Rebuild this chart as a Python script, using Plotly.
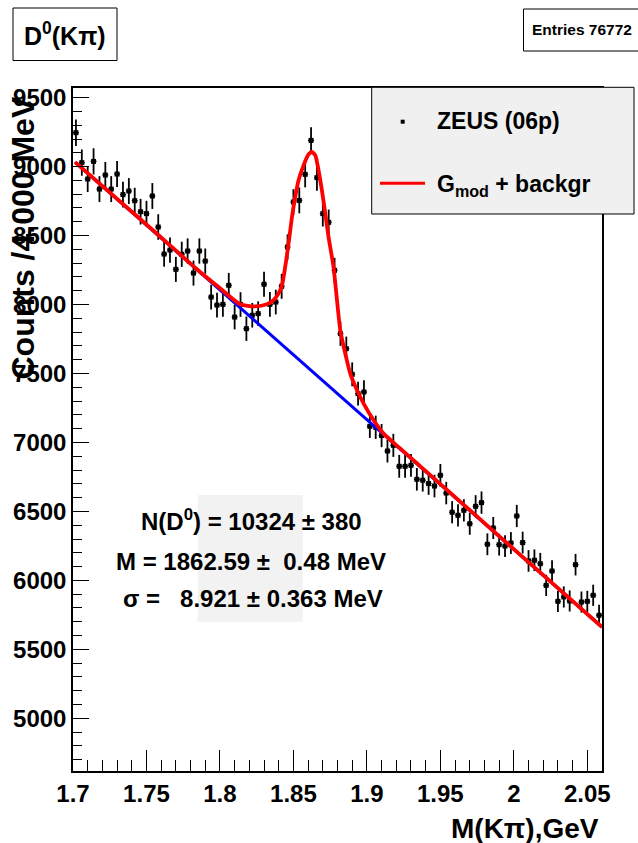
import plotly.graph_objects as go

# ---------------- data ----------------
bin_low = 1.7
bin_width = 0.004
n_bins = 90
bin_centers = [round(bin_low + bin_width * (i + 0.5), 4) for i in range(n_bins)]

counts = [
    9246, 9029, 8910, 9038, 8837, 8939, 8837, 8946, 8797, 8823,
    8753, 8673, 8659, 8787, 8562, 8366, 8395, 8255, 8364, 8388,
    8228, 8388, 8315, 8054, 7996, 8001, 8139, 7909, 8000, 7825,
    7922, 7934, 8147, 8001, 8018, 8132, 8417, 8743, 8755, 8944,
    9190, 8920, 8659, 8596, 8248, 7789, 7680, 7494, 7354, 7366,
    7117, 7110, 7050, 6938, 6979, 6827, 6827, 6834, 6733, 6726,
    6702, 6684, 6762, 6633, 6494, 6472, 6508, 6411, 6537, 6564,
    6262, 6380, 6259, 6249, 6271, 6467, 6274, 6141, 6146, 6121,
    5964, 6068, 5848, 5880, 5851, 6114, 5843, 5848, 5892, 5747,
]
count_errors = [c ** 0.5 for c in counts]

# fitted curve (G_mod + background)
fit_x = [1.7014, 1.7525, 1.7865, 1.8001, 1.8138, 1.8240, 1.8319, 1.8364,
         1.8398, 1.8422, 1.8444, 1.8467, 1.8490, 1.8512, 1.8535, 1.8569,
         1.8603, 1.8626, 1.8649, 1.8671, 1.8694, 1.8717, 1.8739, 1.8773,
         1.8819, 1.8853, 1.8887, 1.8933, 1.8978, 1.9046, 1.9114, 1.9228,
         2.0600]
fit_y = [9033, 8557, 8236, 8118, 8002, 7987, 8002, 8031,
         8079, 8139, 8272, 8442, 8634, 8779, 8901, 9009,
         9089, 9106, 9082, 8973, 8828, 8659, 8489, 8272,
         7813, 7644, 7499, 7378, 7282, 7161, 7064, 6955,
         5661]

# background only
bg_x = [1.7014, 2.0600]
bg_y = [9033, 5661]

x_tick_vals = [1.7, 1.75, 1.8, 1.85, 1.9, 1.95, 2.0, 2.05]
x_tick_text = ["1.7", "1.75", "1.8", "1.85", "1.9", "1.95", "2", "2.05"]
y_tick_vals = [5000, 5500, 6000, 6500, 7000, 7500, 8000, 8500, 9000, 9500]
y_tick_text = [str(v) for v in y_tick_vals]

x_range = [1.7, 2.06]
y_range = [4618, 9570]

# ---------------- layout helpers (pixel -> paper) ----------------
W, H = 638, 843
ML, MR, MT, MB = 73, 36, 88, 72
PW, PH = W - ML - MR, H - MT - MB


def px(xpix):
    return (xpix - ML) / PW


def py(ypix):
    return (H - MB - ypix) / PH


FONT = "Liberation Sans"

fig = go.Figure()

fig.add_trace(go.Scatter(
    x=bin_centers, y=counts, mode="markers",
    marker=dict(symbol="square", size=5, color="black"),
    error_y=dict(type="data", array=count_errors, thickness=1.8, width=0, color="black"),
    error_x=dict(type="constant", value=bin_width / 2, thickness=1.3, width=0, color="black"),
    hoverinfo="skip",
))
fig.add_trace(go.Scatter(
    x=bg_x, y=bg_y, mode="lines",
    line=dict(color="#0000ff", width=3), hoverinfo="skip",
))
fig.add_trace(go.Scatter(
    x=fit_x, y=fit_y, mode="lines",
    line=dict(color="#ff0000", width=3.8, shape="spline", smoothing=0.6), hoverinfo="skip",
))

shapes = []
annotations = []

# stats shaded box
shapes.append(dict(type="rect", xref="paper", yref="paper",
                   x0=px(197.7), x1=px(302.7), y0=py(621.7), y1=py(495),
                   fillcolor="#f2f2f2", line=dict(width=0), layer="below"))

# legend box
shapes.append(dict(type="rect", xref="paper", yref="paper",
                   x0=px(371.7), x1=px(634), y0=py(214), y1=py(87.3),
                   fillcolor="#f0f0f0", line=dict(color="black", width=1), layer="above"))
shapes.append(dict(type="rect", xref="paper", yref="paper",
                   x0=px(400.7), x1=px(404.7), y0=py(123.7), y1=py(119.7),
                   fillcolor="black", line=dict(width=0), layer="above"))
shapes.append(dict(type="line", xref="paper", yref="paper",
                   x0=px(380), x1=px(425), y0=py(183.3), y1=py(183.3),
                   line=dict(color="#ff0000", width=3), layer="above"))

# D0(Kpi) title box
shapes.append(dict(type="rect", xref="paper", yref="paper",
                   x0=px(13), x1=px(117), y0=py(60.5), y1=py(8),
                   fillcolor="white", line=dict(color="black", width=1), layer="above"))
# Entries box
shapes.append(dict(type="rect", xref="paper", yref="paper",
                   x0=px(523.5), x1=px(660), y0=py(51), y1=py(9),
                   fillcolor="white", line=dict(color="black", width=1), layer="above"))


def ann(text, x, y, size, xanchor="left", yanchor="middle", angle=0):
    annotations.append(dict(
        text=text, xref="paper", yref="paper", x=px(x), y=py(y),
        xanchor=xanchor, yanchor=yanchor, showarrow=False, textangle=angle,
        font=dict(family=FONT, size=size, color="black", weight="bold"),
    ))


ann("D<sup>0</sup>(K\u03c0)", 65, 34, 25, xanchor="center")
ann("Entries 76772", 530, 30, 15.5)
ann("ZEUS (06p)", 435, 121, 23)
ann("G<sub>mod</sub> + backgr", 435, 186, 23)
ann("N(D<sup>0</sup>) = 10324 \u00b1 380", 139, 520, 24)
ann("M = 1862.59 \u00b1\u00a0\u00a00.48 MeV", 114, 561.7, 24)
ann("\u03c3 =\u00a0\u00a0\u00a08.921 \u00b1 0.363 MeV", 120.7, 598.3, 24)
ann("M(K\u03c0),GeV", 601, 828, 28, xanchor="right")
ann("Counts /4.000 MeV", 22.5, 238, 32, xanchor="center", angle=-90)

fig.update_layout(
    width=W, height=H,
    margin=dict(l=ML, r=MR, t=MT, b=MB, pad=0),
    paper_bgcolor="white", plot_bgcolor="white",
    showlegend=False,
    font=dict(family=FONT, color="black"),
    shapes=shapes, annotations=annotations,
    xaxis=dict(
        range=x_range, tickmode="array", tickvals=x_tick_vals, ticktext=x_tick_text,
        ticks="inside", ticklen=21, tickwidth=1.3, tickcolor="black",
        showline=True, linecolor="black", linewidth=1.5, mirror=True,
        showgrid=False, zeroline=False,
        tickfont=dict(family=FONT, size=24, color="black", weight="bold"),
        minor=dict(dtick=0.01, tick0=1.7, ticks="inside", ticklen=11,
                   tickcolor="black", tickwidth=1, showgrid=False),
    ),
    yaxis=dict(
        range=y_range, tickmode="array", tickvals=y_tick_vals, ticktext=y_tick_text,
        ticks="inside", ticklen=16, tickwidth=1.3, tickcolor="black",
        showline=True, linecolor="black", linewidth=1.5, mirror=True,
        showgrid=False, zeroline=False,
        tickfont=dict(family=FONT, size=24, color="black", weight="bold"),
        minor=dict(dtick=100, tick0=5000, ticks="inside", ticklen=9,
                   tickcolor="black", tickwidth=1, showgrid=False),
    ),
)

fig.write_html("out.html")
